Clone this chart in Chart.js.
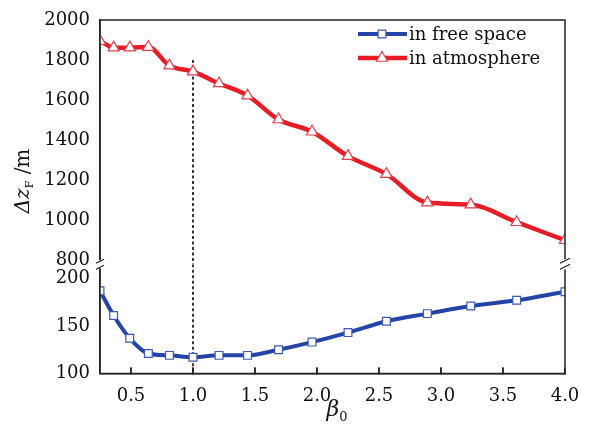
<!DOCTYPE html>
<html>
<head>
<meta charset="utf-8">
<script src="https://cdn.jsdelivr.net/npm/chart.js@4/dist/chart.umd.min.js"></script>
<style>
  html, body { margin: 0; padding: 0; background: #fff; }
  #wrap { width: 592px; height: 440px; }
</style>
</head>
<body>
<div id="wrap"><canvas id="chart"></canvas></div>
<script>
var beta = [0.25, 0.36, 0.49, 0.64, 0.81, 1.00, 1.21, 1.44, 1.69, 1.96, 2.25, 2.56, 2.89, 3.24, 3.61, 4.00];
var freeSpace = [187, 161, 137, 121, 119, 117, 119, 119, 125, 133, 143, 155, 163, 171, 177, 186];
var atmosphere = [1895, 1862, 1862, 1865, 1772, 1742, 1683, 1622, 1503, 1442, 1320, 1230, 1088, 1078, 990, 900];
var xTicks = [0.5, 1.0, 1.5, 2.0, 2.5, 3.0, 3.5, 4.0];
var yTicksTop = [800, 1000, 1200, 1400, 1600, 1800, 2000];
var yTicksBottom = [100, 150, 200];
var topRange = [780, 2000];
var bottomRange = [100, 215];
var guideBeta = 1.0;
var guideTop = 1800;

var serif = "'DejaVu Serif', serif";

function pts(xs, ys) {
    return xs.map(function (x, i) { return { x: x, y: ys[i] }; });
}

// frame, inward ticks, axis break marks and axis titles
var decor = {
    id: "decor",
    afterDraw: function (chart) {
        var ctx = chart.ctx;
        var a = chart.chartArea;
        var xs = chart.scales.x;
        var yb = chart.scales.yTop.bottom;
        ctx.save();
        ctx.strokeStyle = "#222";
        ctx.lineWidth = 1.5;
        ctx.beginPath();
        ctx.moveTo(a.left, a.bottom);
        ctx.lineTo(a.left, a.top);
        ctx.lineTo(a.right, a.top);
        ctx.lineTo(a.right, a.bottom);
        ctx.lineTo(a.left, a.bottom);
        xTicks.forEach(function (v) {
            var px = xs.getPixelForValue(v);
            ctx.moveTo(px, a.bottom);
            ctx.lineTo(px, a.bottom - 6);
        });
        ctx.stroke();

        // break gap
        ctx.fillStyle = "#fff";
        ctx.fillRect(a.left - 3, yb - 4, 6, 8);
        ctx.fillRect(a.right - 3, yb - 5, 6, 10);
        ctx.lineWidth = 1.2;
        ctx.beginPath();
        ctx.moveTo(a.left - 4, yb - 1);
        ctx.lineTo(a.left + 4, yb - 5);
        ctx.moveTo(a.left - 4, yb + 5);
        ctx.lineTo(a.left + 4, yb + 1);
        ctx.moveTo(a.right - 5, yb - 1);
        ctx.lineTo(a.right + 5, yb - 6);
        ctx.moveTo(a.right - 5, yb + 5);
        ctx.lineTo(a.right + 5, yb);
        ctx.stroke();

        // y title
        ctx.fillStyle = "#111";
        ctx.textBaseline = "alphabetic";
        ctx.translate(29, 181);
        ctx.rotate(-Math.PI / 2);
        var parts = [
            { t: "\u0394z", f: "italic 20px " + serif, dy: 0 },
            { t: "F", f: "11px " + serif, dy: 4 },
            { t: " /m", f: "20px " + serif, dy: 0 }
        ];
        var total = 0;
        parts.forEach(function (p) { ctx.font = p.f; p.w = ctx.measureText(p.t).width; total += p.w; });
        var x = -total / 2;
        parts.forEach(function (p) {
            ctx.font = p.f;
            ctx.fillText(p.t, x, p.dy);
            x += p.w;
        });
        ctx.restore();

        // x title
        ctx.save();
        ctx.fillStyle = "#111";
        ctx.font = "italic 22px " + serif;
        var bx = (a.left + a.right) / 2 - 6;
        ctx.fillText("\u03b2", bx, 416);
        var bw = ctx.measureText("\u03b2").width;
        ctx.font = "13px " + serif;
        ctx.fillText("0", bx + bw, 421);
        ctx.restore();
    }
};

// legend drawn inside the plot, top right
var insideLegend = {
    id: "insideLegend",
    afterDatasetsDraw: function (chart) {
        var ctx = chart.ctx;
        var a = chart.chartArea;
        var x0 = a.right - 207;
        var y = a.top + 14;
        ctx.save();
        chart.data.datasets.forEach(function (ds) {
            if (!ds.label) return;
            ctx.strokeStyle = ds.borderColor;
            ctx.lineWidth = ds.borderWidth;
            ctx.beginPath();
            ctx.moveTo(x0, y);
            ctx.lineTo(x0 + 49, y);
            ctx.stroke();
            ctx.fillStyle = ds.pointBackgroundColor;
            ctx.strokeStyle = ds.pointBorderColor;
            ctx.lineWidth = ds.pointBorderWidth;
            Chart.helpers.drawPoint(ctx, { pointStyle: ds.pointStyle, radius: ds.pointRadius, rotation: 0, borderWidth: ds.pointBorderWidth }, x0 + 24, y);
            ctx.fillStyle = "#111";
            ctx.font = "18px " + serif;
            ctx.textBaseline = "middle";
            ctx.fillText(ds.label, x0 + 51, y + 1);
            y += 24;
        });
        ctx.restore();
    }
};

function noSidePad(s) {
    s.paddingLeft = 0;
    s.paddingRight = 0;
    s.paddingTop = 0;
    s.paddingBottom = 0;
}

var yTickOpts = {
    color: "#111",
    font: { family: serif, size: 18 },
    padding: 10,
    autoSkip: false,
    callback: function (v) { return String(v); }
};

new Chart(document.getElementById("chart"), {
    type: "line",
    data: {
        datasets: [
            {
                label: "in free space",
                data: pts(beta, freeSpace),
                yAxisID: "yBottom",
                borderColor: "#2444a8",
                borderWidth: 4,
                cubicInterpolationMode: "monotone",
                pointStyle: "rect",
                pointRadius: 5.5,
                pointBackgroundColor: "#fff",
                pointBorderColor: "#3b5ab8",
                pointBorderWidth: 1.2
            },
            {
                label: "in atmosphere",
                data: pts(beta, atmosphere),
                yAxisID: "yTop",
                borderColor: "#e81c24",
                borderWidth: 4.5,
                cubicInterpolationMode: "monotone",
                pointStyle: "triangle",
                pointRadius: 6.5,
                pointBackgroundColor: "#fff",
                pointBorderColor: "#e0404c",
                pointBorderWidth: 1.2
            },
            {
                data: [{ x: guideBeta, y: guideTop }, { x: guideBeta, y: topRange[0] }],
                yAxisID: "yTop",
                borderColor: "#222",
                borderWidth: 1.8,
                borderDash: [3, 2.5],
                pointRadius: 0
            },
            {
                data: [{ x: guideBeta, y: bottomRange[1] }, { x: guideBeta, y: bottomRange[0] }],
                yAxisID: "yBottom",
                borderColor: "#222",
                borderWidth: 1.8,
                borderDash: [3, 2.5],
                pointRadius: 0
            }
        ]
    },
    options: {
        responsive: true,
        maintainAspectRatio: false,
        animation: false,
        layout: { padding: { left: 44, top: 20, right: 27, bottom: 15 } },
        plugins: {
            legend: { display: false },
            tooltip: { enabled: false }
        },
        scales: {
            x: {
                type: "linear",
                min: beta[0],
                max: beta[beta.length - 1],
                afterBuildTicks: function (s) { s.ticks = xTicks.map(function (v) { return { value: v }; }); },
                afterFit: noSidePad,
                ticks: {
                    color: "#111",
                    font: { family: serif, size: 18 },
                    padding: 18,
                    maxRotation: 0,
                    autoSkip: false,
                    callback: function (v) { return v.toFixed(1); }
                },
                grid: { drawOnChartArea: false, tickLength: -6, color: "#222", lineWidth: 1.5 },
                border: { color: "#222", width: 1.5 }
            },
            yBottom: {
                type: "linear",
                position: "left",
                stack: "y",
                stackWeight: 109,
                min: bottomRange[0],
                max: bottomRange[1],
                afterBuildTicks: function (s) { s.ticks = yTicksBottom.map(function (v) { return { value: v }; }); },
                afterFit: function (s) { noSidePad(s); s.width = 56; },
                ticks: yTickOpts,
                grid: { drawOnChartArea: false, drawTicks: false },
                border: { color: "#222", width: 1.5 }
            },
            yTop: {
                type: "linear",
                position: "left",
                stack: "y",
                stackWeight: 244,
                min: topRange[0],
                max: topRange[1],
                afterBuildTicks: function (s) { s.ticks = yTicksTop.map(function (v) { return { value: v }; }); },
                afterFit: function (s) { noSidePad(s); s.width = 56; },
                ticks: yTickOpts,
                grid: { drawOnChartArea: false, drawTicks: false },
                border: { color: "#222", width: 1.5 }
            }
        }
    },
    plugins: [insideLegend, decor]
});
</script>
</body>
</html>
